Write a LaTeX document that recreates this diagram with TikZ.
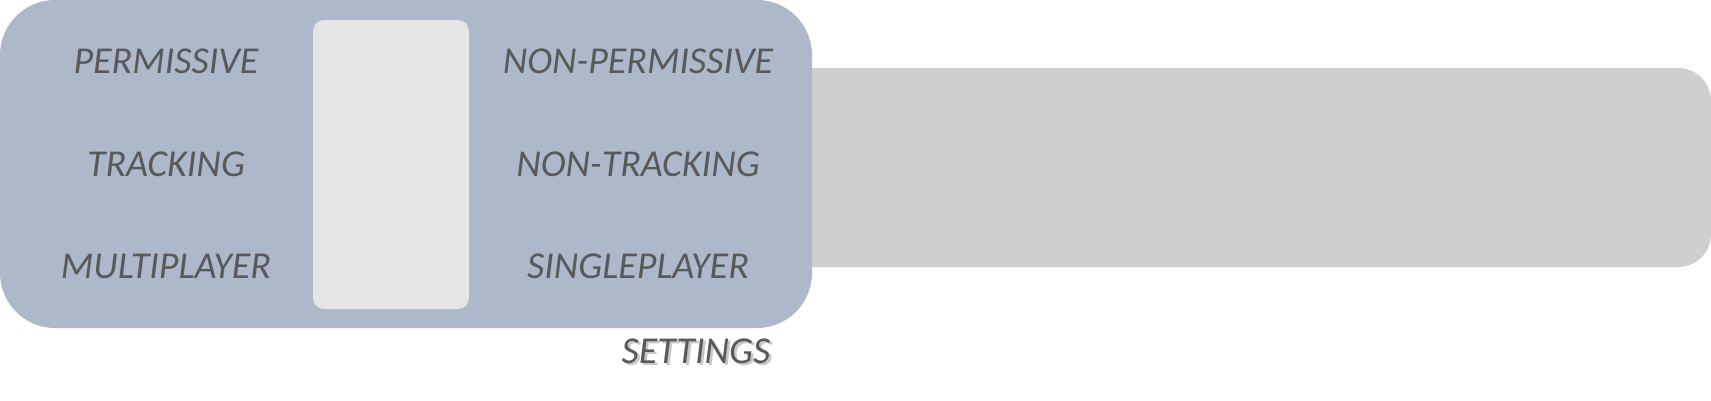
\documentclass[tikz,border=0pt]{standalone}
\usepackage{fontspec}
\setmainfont{Carlito}
\usetikzlibrary{positioning}
\definecolor{panelblue}{HTML}{ADB9CA}
\definecolor{slotgray}{HTML}{E5E5E5}
\definecolor{bargray}{HTML}{D0CECE}
\definecolor{textgray}{HTML}{595959}
\tikzset{
  lbl/.style={font=\fontsize{38}{42}\selectfont\itshape, text=textgray, inner sep=0pt},
  shadowlbl/.style={lbl, text=black!22}
}

\begin{document}
\begin{tikzpicture}[x=1pt,y=-1pt]
\useasboundingbox (0,0) rectangle (1711,400);
\coordinate (A) at (0,0);
\coordinate (C) at (812,328);
% bar behind the panel
\fill [bargray, rounded corners=33pt] (700,68) rectangle (1711,267);
\fill [panelblue, rounded corners=55pt] (A) rectangle (C);
\fill [slotgray, rounded corners=11pt] (313,20) rectangle (469,309);
% labels
\node[lbl] (perm) at (166,61) {PERMISSIVE};
\node[lbl] (track) at (166,164) {TRACKING};
\node[lbl] (multi) at (166,266) {MULTIPLAYER};
\node[lbl] (nonperm) at (638,61) {NON-PERMISSIVE};
\node[lbl] (nontrack) at (638,164) {NON-TRACKING};
\node[lbl] (single) at (638,266) {SINGLEPLAYER};
\node[shadowlbl] at (698.5,353.5) {SETTINGS};
\node[lbl] (settings) at (696,351) {SETTINGS};
\end{tikzpicture}
\end{document}
